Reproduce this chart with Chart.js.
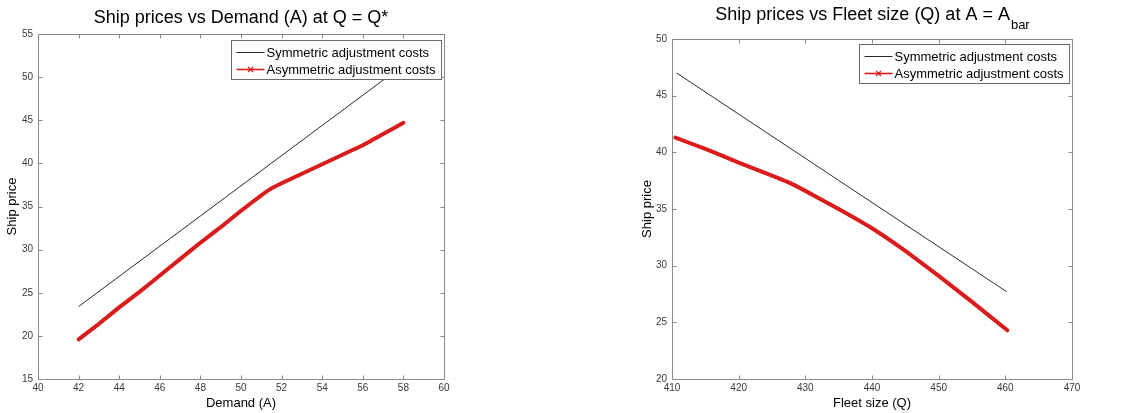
<!DOCTYPE html>
<html><head><meta charset="utf-8">
<script src="https://cdn.jsdelivr.net/npm/chart.js@4.4.0/dist/chart.umd.min.js"></script>
<style>
html,body{margin:0;padding:0;background:#fff;}
#wrap{position:relative;width:1129px;height:413px;overflow:hidden;}
canvas{position:absolute;top:0;}
#c1{left:0;} #c2{left:560px;}
</style></head><body>
<div id="wrap"><canvas id="c1" width="560" height="413"></canvas><canvas id="c2" width="569" height="413"></canvas></div>
<script>
// ---- Data ----
const demandSym   = [42, 58];
const priceSymA   = [23.4, 51.4];
const demandAsym  = [42, 43, 44, 45, 46, 47, 48, 49, 50, 51, 51.5, 52, 53, 54, 55, 56, 57, 58];
const priceAsymA  = [19.6, 21.4, 23.3, 25.1, 27.0, 28.9, 30.8, 32.6, 34.5, 36.3, 37.1, 37.7, 38.8, 39.9, 41.0, 42.1, 43.4, 44.7];
const fleetSym    = [410.7, 460.2];
const priceSymQ   = [47.0, 27.7];
const fleetAsym   = [410.5, 415, 420, 425, 427.5, 430, 435, 440, 445, 450, 455, 460.3];
const priceAsymQ  = [41.3, 40.3, 39.1, 37.95, 37.35, 36.6, 35.0, 33.3, 31.3, 29.1, 26.8, 24.3];
const seriesLabels = ['Symmetric adjustment costs', 'Asymmetric adjustment costs'];
const titleLeft  = {main: 'Ship prices vs Demand (A) at Q = Q*', sub: ''};
const titleRight = {main: 'Ship prices vs Fleet size (Q) at A = A', sub: 'bar'};
const yTitle = 'Ship price';
const xTitleLeft = 'Demand (A)';
const xTitleRight = 'Fleet size (Q)';

const FONT = '"Liberation Sans", Arial, Helvetica, sans-serif';
Chart.defaults.font.family = FONT;
const SYM_COLOR = '#2a2a2a';
const ASYM_COLOR = 'rgb(218,28,28)';

function pts(xs, ys){ return xs.map((v,i)=>({x:v, y:ys[i]})); }

const matlabPlugin = {
  id: 'matlab',
  afterDatasetsDraw(chart, args, opts){
    const {ctx, chartArea:a, scales:{x, y}} = chart;
    ctx.save();
    ctx.strokeStyle = '#8a8a8a';
    ctx.lineWidth = 1;
    const L = Math.round(a.left)+0.5, R = Math.round(a.right)+0.5, T = Math.round(a.top)+0.5, B = Math.round(a.bottom)+0.5;
    ctx.strokeRect(L, T, R-L, B-T);
    ctx.beginPath();
    x.ticks.forEach(t=>{
      const px = Math.round(x.getPixelForValue(t.value))+0.5;
      ctx.moveTo(px, B); ctx.lineTo(px, B-4);
      ctx.moveTo(px, T); ctx.lineTo(px, T+4);
    });
    y.ticks.forEach(t=>{
      const py = Math.round(y.getPixelForValue(t.value))+0.5;
      ctx.moveTo(L, py); ctx.lineTo(L+4, py);
      ctx.moveTo(R, py); ctx.lineTo(R-4, py);
    });
    ctx.stroke();
    // legend inside the axes, top-right
    ctx.font = '13px ' + FONT;
    const ds = chart.data.datasets;
    let maxW = 0;
    ds.forEach(d=>{ maxW = Math.max(maxW, ctx.measureText(d.label).width); });
    const bw = 35 + maxW + 6, bh = 39;
    const bx = Math.round(a.right - 3 - bw) + 0.5, by = Math.round(a.top + opts.legendTop) + 0.5;
    ctx.fillStyle = '#fff';
    ctx.fillRect(bx, by, bw, bh);
    ctx.strokeStyle = '#6a6a6a';
    ctx.strokeRect(bx, by, bw, bh);
    ds.forEach((d,i)=>{
      const ry = by + 12 + i*17;
      ctx.strokeStyle = d.borderColor;
      ctx.lineWidth = i === 0 ? 1 : 1.6;
      ctx.beginPath(); ctx.moveTo(bx+5, ry); ctx.lineTo(bx+33, ry); ctx.stroke();
      if (i === 1) {
        const cx = bx+19;
        ctx.lineWidth = 1.2;
        ctx.beginPath();
        ctx.moveTo(cx-2.5, ry-2.5); ctx.lineTo(cx+2.5, ry+2.5);
        ctx.moveTo(cx-2.5, ry+2.5); ctx.lineTo(cx+2.5, ry-2.5);
        ctx.stroke();
      }
      ctx.fillStyle = '#000';
      ctx.textAlign = 'left'; ctx.textBaseline = 'middle';
      ctx.fillText(d.label, bx+35, ry+0.5);
    });
    ctx.restore();
  },
  afterDraw(chart, args, opts){
    const {ctx, chartArea:a} = chart;
    const t = opts.title;
    ctx.save();
    ctx.fillStyle = '#000';
    ctx.textBaseline = 'middle';
    ctx.textAlign = 'left';
    ctx.font = '18px ' + FONT;
    const w1 = ctx.measureText(t.main).width;
    ctx.font = '13px ' + FONT;
    const w2 = t.sub ? ctx.measureText(t.sub).width : 0;
    const cx = (a.left + a.right)/2;
    const x0 = cx - (w1 + w2)/2;
    ctx.font = '18px ' + FONT;
    ctx.fillText(t.main, x0, opts.titleY);
    if (t.sub) {
      ctx.font = '13px ' + FONT;
      ctx.fillText(t.sub, x0 + w1 + 1, opts.titleY + 10);
    }
    ctx.restore();
  }
};

function makeChart(id, cfg){
  return new Chart(document.getElementById(id), {
    type: 'scatter',
    data: {
      datasets: [
        {label: seriesLabels[0], data: pts(cfg.symX, cfg.symY), showLine: true, borderColor: SYM_COLOR, borderWidth: 1, pointRadius: 0, fill: false},
        {label: seriesLabels[1], data: pts(cfg.asX, cfg.asY), showLine: true, borderColor: ASYM_COLOR, borderWidth: 4, pointRadius: 0, fill: false, tension: 0.1, borderJoinStyle: 'round', borderCapStyle: 'round'}
      ]
    },
    options: {
      responsive: false, animation: false, devicePixelRatio: 1,
      layout: {padding: cfg.padding},
      plugins: {
        legend: {display: false}, tooltip: {enabled: false}, title: {display: false},
        matlab: {title: cfg.title, titleY: cfg.titleY, legendTop: cfg.legendTop}
      },
      scales: {
        x: {
          type: 'linear', min: cfg.xMin, max: cfg.xMax,
          ticks: {stepSize: cfg.xStep, font: {size: 10}, color: '#3a3a3a', padding: 3, maxRotation: 0, autoSkip: false},
          grid: {display: false, drawTicks: false}, border: {display: false},
          title: {display: true, text: cfg.xTitle, font: {size: 13}, color: '#000', padding: {top: 0, bottom: 2}},
          afterFit(s){ s.height = 34; }
        },
        y: {
          type: 'linear', min: cfg.yMin, max: cfg.yMax,
          ticks: {stepSize: 5, font: {size: 10}, color: '#3a3a3a', padding: 5, autoSkip: false},
          grid: {display: false, drawTicks: false}, border: {display: false},
          title: {display: true, text: yTitle, font: {size: 13}, color: '#000', padding: {top: 5, bottom: 0}},
          afterFit(s){ s.width = cfg.yWidth; }
        }
      }
    },
    plugins: [matlabPlugin]
  });
}

makeChart('c1', {
  symX: demandSym, symY: priceSymA, asX: demandAsym, asY: priceAsymA,
  xMin: 40, xMax: 60, xStep: 2, yMin: 15, yMax: 55,
  xTitle: xTitleLeft, title: titleLeft, titleY: 18, legendTop: 6,
  padding: {left: 0, right: 116, top: 34, bottom: 0}, yWidth: 38
});
makeChart('c2', {
  symX: fleetSym, symY: priceSymQ, asX: fleetAsym, asY: priceAsymQ,
  xMin: 410, xMax: 470, xStep: 10, yMin: 20, yMax: 50,
  xTitle: xTitleRight, title: titleRight, titleY: 15, legendTop: 5,
  padding: {left: 75, right: 57, top: 39, bottom: 0}, yWidth: 37
});
</script>
</body></html>
